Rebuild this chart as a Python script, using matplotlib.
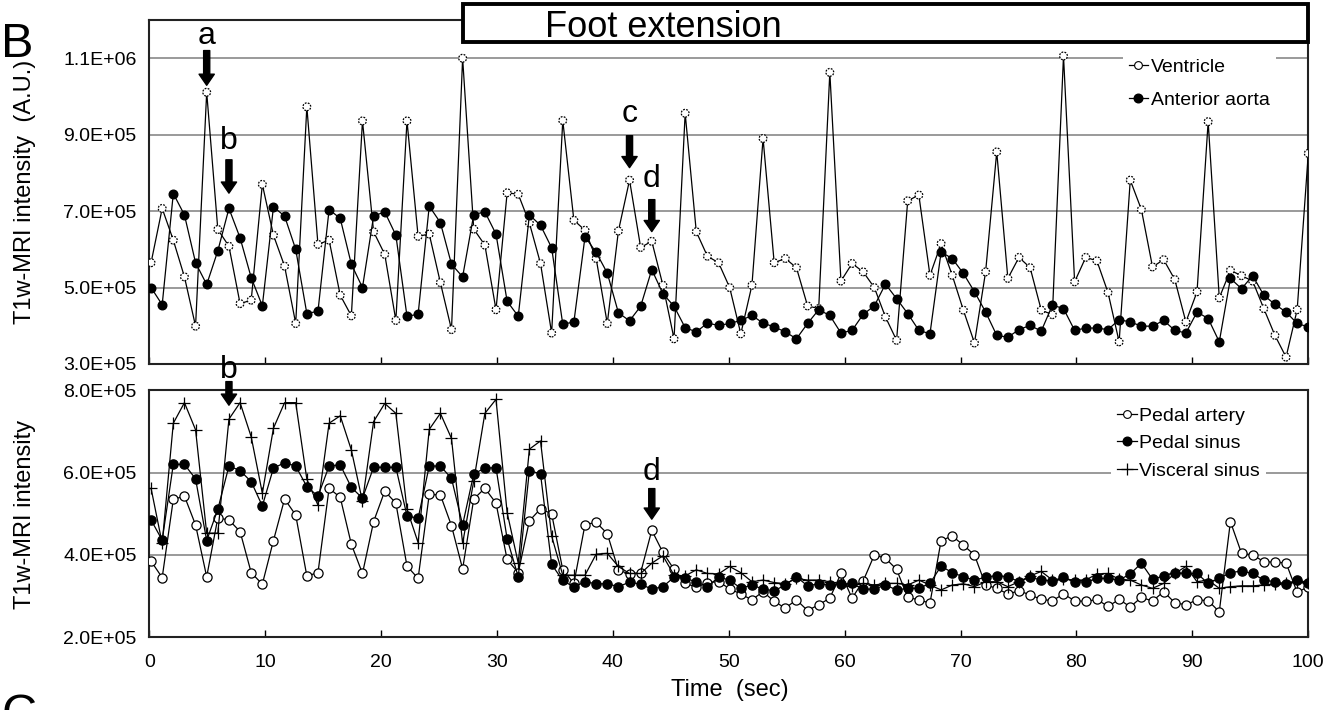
import numpy as np
import matplotlib
matplotlib.use("Agg")
import matplotlib.pyplot as plt
from matplotlib.lines import Line2D
from matplotlib.patches import Rectangle
from matplotlib.ticker import FuncFormatter
import matplotlib.transforms as mtransforms

plt.rcParams['font.family'] = ['Liberation Sans', 'DejaVu Sans']

# ---------------- data ----------------
N_FRAMES = 105
FRAME_INTERVAL = 0.96      # sec between MRI frames
FIRST_FRAME_TIME = 0.16    # sec
time_s = FIRST_FRAME_TIME + FRAME_INTERVAL * np.arange(N_FRAMES)

SCALE = 1e5
FOOT_EXTENSION_START = 27.1  # sec

ventricle = [
    5.65, 7.07, 6.24, 5.28, 3.99, 10.11, 6.52, 6.08, 4.58, 4.67,
    7.70, 6.37, 5.56, 4.06, 9.73, 6.13, 6.24, 4.80, 4.26, 9.36,
    6.46, 5.87, 4.14, 9.36, 6.34, 6.40, 5.13, 3.90, 11.00, 6.53,
    6.11, 4.42, 7.48, 7.44, 6.69, 5.63, 3.81, 9.37, 6.76, 6.50,
    5.76, 4.06, 6.48, 7.81, 6.05, 6.21, 5.06, 3.66, 9.56, 6.46,
    5.82, 5.65, 5.00, 3.79, 5.06, 8.90, 5.65, 5.76, 5.52, 4.52,
    4.45, 10.63, 5.17, 5.63, 5.41, 5.00, 4.23, 3.62, 7.27, 7.42,
    5.32, 6.15, 5.32, 4.41, 3.55, 5.41, 8.55, 5.24, 5.79, 5.52,
    4.41, 4.29, 11.06, 5.15, 5.79, 5.70, 4.87, 3.58, 7.81, 7.04,
    5.54, 5.73, 5.21, 4.10, 4.89, 9.34, 4.73, 5.45, 5.31, 5.17,
    4.45, 3.75, 3.18, 4.42, 8.51]

anterior_aorta = [
    5.00, 4.55, 7.46, 6.90, 5.65, 5.08, 5.96, 7.07, 6.30, 5.26,
    4.52, 7.11, 6.87, 6.00, 4.32, 4.38, 7.04, 6.81, 5.61, 5.00,
    6.87, 6.98, 6.37, 4.25, 4.30, 7.13, 6.70, 5.61, 5.28, 6.91,
    6.98, 6.40, 4.64, 4.25, 6.90, 6.63, 6.04, 4.04, 4.10, 6.33,
    5.92, 5.38, 4.34, 4.13, 4.51, 5.47, 4.84, 4.51, 3.95, 3.84,
    4.07, 4.01, 4.06, 4.14, 4.27, 4.07, 3.97, 3.84, 3.66, 4.06,
    4.42, 4.27, 3.81, 3.88, 4.30, 4.52, 5.09, 4.71, 4.32, 3.88,
    3.79, 5.93, 5.76, 5.37, 4.89, 4.36, 3.75, 3.70, 3.90, 4.01,
    3.86, 4.54, 4.45, 3.88, 3.94, 3.94, 3.90, 4.16, 4.10, 3.99,
    3.99, 4.14, 3.88, 3.81, 4.36, 4.19, 3.58, 5.24, 4.97, 5.31,
    4.80, 4.56, 4.36, 4.06, 3.97]

pedal_artery = [
    3.85, 3.45, 5.35, 5.43, 4.73, 3.47, 4.90, 4.85, 4.57, 3.57,
    3.29, 4.35, 5.36, 4.97, 3.49, 3.57, 5.62, 5.40, 4.26, 3.55,
    4.81, 5.55, 5.26, 3.73, 3.43, 5.47, 5.46, 4.71, 3.66, 5.36,
    5.62, 5.26, 3.89, 3.57, 4.83, 5.12, 5.00, 3.64, 3.31, 4.74,
    4.79, 4.52, 3.63, 3.54, 3.57, 4.60, 4.06, 3.65, 3.32, 3.21,
    3.33, 3.35, 3.18, 3.05, 2.91, 3.11, 2.87, 2.71, 2.91, 2.65,
    2.79, 2.95, 3.55, 2.95, 3.37, 4.00, 3.92, 3.65, 2.97, 2.91,
    2.83, 4.35, 4.46, 4.24, 4.00, 3.27, 3.19, 3.05, 3.13, 3.03,
    2.92, 2.89, 3.05, 2.89, 2.87, 2.92, 2.75, 2.92, 2.74, 2.97,
    2.88, 3.11, 2.84, 2.79, 2.91, 2.89, 2.62, 4.81, 4.04, 4.00,
    3.84, 3.82, 3.81, 3.09, 3.23]

pedal_sinus = [
    4.85, 4.36, 6.20, 6.20, 5.85, 4.35, 5.11, 6.16, 6.05, 5.78,
    5.19, 6.11, 6.24, 6.16, 5.66, 5.43, 6.16, 6.19, 5.64, 5.38,
    6.13, 6.13, 6.13, 4.95, 4.89, 6.16, 6.16, 5.86, 4.73, 5.97,
    6.11, 6.12, 4.39, 3.47, 6.05, 5.97, 3.77, 3.38, 3.22, 3.35,
    3.30, 3.30, 3.23, 3.34, 3.29, 3.17, 3.23, 3.46, 3.43, 3.35,
    3.23, 3.46, 3.39, 3.19, 3.27, 3.17, 3.13, 3.27, 3.47, 3.25,
    3.30, 3.27, 3.29, 3.31, 3.17, 3.17, 3.27, 3.15, 3.19, 3.19,
    3.31, 3.73, 3.57, 3.47, 3.39, 3.46, 3.50, 3.47, 3.35, 3.46,
    3.39, 3.37, 3.46, 3.35, 3.34, 3.43, 3.43, 3.39, 3.54, 3.80,
    3.41, 3.49, 3.57, 3.55, 3.55, 3.31, 3.43, 3.57, 3.61, 3.55,
    3.39, 3.35, 3.30, 3.39, 3.33]

visceral_sinus = [
    5.62, 4.28, 7.20, 7.70, 7.04, 4.53, 4.53, 7.30, 7.70, 6.87,
    5.50, 7.08, 7.70, 7.70, 5.84, 5.21, 7.20, 7.38, 6.55, 5.30,
    7.24, 7.68, 7.44, 5.11, 4.30, 7.05, 7.44, 6.83, 4.28, 5.80,
    7.44, 7.78, 5.03, 3.80, 6.57, 6.77, 4.46, 3.51, 3.51, 3.51,
    4.02, 4.04, 3.72, 3.55, 3.55, 3.80, 3.98, 3.51, 3.49, 3.64,
    3.55, 3.54, 3.72, 3.57, 3.35, 3.39, 3.33, 3.30, 3.43, 3.39,
    3.39, 3.35, 3.29, 3.25, 3.31, 3.27, 3.31, 3.31, 3.27, 3.39,
    3.27, 3.15, 3.27, 3.30, 3.23, 3.35, 3.35, 3.23, 3.35, 3.49,
    3.60, 3.39, 3.41, 3.39, 3.39, 3.54, 3.55, 3.41, 3.39, 3.27,
    3.19, 3.31, 3.55, 3.72, 3.35, 3.39, 3.19, 3.23, 3.25, 3.25,
    3.27, 3.30, 3.31, 3.35, 3.31]

top_yticks = [3e5, 5e5, 7e5, 9e5, 1.1e6]
bottom_yticks = [2e5, 4e5, 6e5, 8e5]
xticks = [0, 10, 20, 30, 40, 50, 60, 70, 80, 90, 100]

# annotations: (label, panel, series, frame index, arrow gap pt, arrow length pt, text offset pt)
annotations = [
    ("a", "top", "ventricle", 5, 5, 25, 35),
    ("b", "top", "anterior_aorta", 7, 11, 24, 43),
    ("c", "top", "ventricle", 43, 9, 23, 42),
    ("d", "top", "ventricle", 45, 7, 23, 39),
    ("b", "bottom", "visceral_sinus", 7, 10, 17, 29.5),
    ("d", "bottom", "pedal_artery", 45, 8, 22, 36),
]

series = {
    "ventricle": np.array(ventricle) * SCALE,
    "anterior_aorta": np.array(anterior_aorta) * SCALE,
    "pedal_artery": np.array(pedal_artery) * SCALE,
    "pedal_sinus": np.array(pedal_sinus) * SCALE,
    "visceral_sinus": np.array(visceral_sinus) * SCALE,
}

# ---------------- figure ----------------
W, H = 1341, 710
fig = plt.figure(figsize=(W / 100, H / 100), dpi=100)
ax1 = fig.add_axes([149.2 / W, 1 - 364 / H, 1159.1 / W, 344 / H])
ax2 = fig.add_axes([149.2 / W, 1 - 637.3 / H, 1159.1 / W, 247 / H])

LW = 0.9
MS = 5.6
GRID_COLOR = '#7f7f7f'

# top panel
ax1.plot(time_s, series["ventricle"], '-', color='k', lw=LW, zorder=3)
ax1.scatter(time_s, series["ventricle"], s=MS ** 2, facecolors='white',
            edgecolors='k', linewidths=0.9, linestyles=(0, (1.5, 1)), zorder=4)
ax1.plot(time_s, series["anterior_aorta"], '-', color='k', lw=LW, marker='o',
         ms=MS + 0.6, mfc='k', mec='k', zorder=5)

# bottom panel
ax2.plot(time_s, series["pedal_artery"], '-', color='k', lw=LW, marker='o',
         ms=MS + 1.0, mfc='white', mec='k', mew=0.9, zorder=3)
ax2.plot(time_s, series["pedal_sinus"], '-', color='k', lw=LW, marker='o',
         ms=MS + 1.0, mfc='k', mec='k', zorder=4)
ax2.plot(time_s, series["visceral_sinus"], '-', color='k', lw=LW, marker='+',
         ms=8, mew=0.9, zorder=5)

fmt = FuncFormatter(lambda v, p: f"{v:.1E}")
for ax, yt, ylim in ((ax1, top_yticks, (3e5, 1.2e6)), (ax2, bottom_yticks, (2e5, 8e5))):
    ax.set_xlim(0, 100)
    ax.set_ylim(*ylim)
    ax.set_xticks(xticks)
    ax.set_yticks(yt)
    ax.yaxis.set_major_formatter(fmt)
    ax.yaxis.grid(True, color=GRID_COLOR, lw=1.1, zorder=0)
    ax.set_axisbelow(True)
    for sp in ax.spines.values():
        sp.set_linewidth(1.5)
        sp.set_color('#222222')
    ax.tick_params(axis='x', direction='in', length=5, width=1.0, labelsize=14, pad=12)
    ax.tick_params(axis='y', length=0, labelsize=14, pad=9)
ax1.tick_params(axis='x', labelbottom=False)

# legends
h_vent = Line2D([], [], color='k', lw=LW, marker='o', ms=MS, mfc='white', mec='k', mew=0.8)
h_aorta = Line2D([], [], color='k', lw=LW, marker='o', ms=MS + 0.6, mfc='k', mec='k')
leg1 = ax1.legend([h_vent, h_aorta], ['Ventricle', 'Anterior aorta'], loc='upper left',
                  bbox_to_anchor=(0.840, 0.905), frameon=True, fancybox=False,
                  edgecolor='none', facecolor='white', framealpha=1, fontsize=14,
                  handlelength=1.0, handletextpad=0.15, labelspacing=0.8,
                  borderpad=0.3, borderaxespad=0)

h_pa = Line2D([], [], color='k', lw=LW, marker='o', ms=MS, mfc='white', mec='k', mew=0.8)
h_ps = Line2D([], [], color='k', lw=LW, marker='o', ms=MS + 0.6, mfc='k', mec='k')
h_vs = Line2D([], [], color='k', lw=LW, marker='+', ms=8, mew=0.9)
leg2 = ax2.legend([h_pa, h_ps, h_vs], ['Pedal artery', 'Pedal sinus', 'Visceral sinus'],
                  loc='upper left', bbox_to_anchor=(0.830, 0.955), frameon=True,
                  fancybox=False, edgecolor='none', facecolor='white', framealpha=1,
                  fontsize=14, handlelength=1.0, handletextpad=0.15, labelspacing=0.5,
                  borderpad=0.3, borderaxespad=0)

# arrows with letters
panel_axes = {"top": ax1, "bottom": ax2}
for label, panel, key, idx, gap, length, toff in annotations:
    ax = panel_axes[panel]
    xy = (time_s[idx], series[key][idx])
    ax.annotate('', xy=xy, xycoords='data', xytext=(0, gap + length),
                textcoords='offset points',
                arrowprops=dict(arrowstyle='simple,head_length=0.4,head_width=0.55,tail_width=0.22',
                                fc='k', ec='k', shrinkA=0, shrinkB=gap, mutation_scale=20),
                zorder=8, annotation_clip=False)
    ax.annotate(label, xy=xy, xycoords='data', xytext=(0, toff), textcoords='offset points',
                ha='center', va='baseline', fontsize=23, zorder=8, annotation_clip=False)

# Foot extension box
trans = mtransforms.blended_transform_factory(ax1.transData, fig.transFigure)
rect = Rectangle((FOOT_EXTENSION_START, 1 - 42 / H), 100 - FOOT_EXTENSION_START, 38 / H,
                 transform=trans, facecolor='white', edgecolor='k', lw=2.8,
                 clip_on=False, zorder=10)
fig.add_artist(rect)
fig.text(545 / W, 1 - 37 / H, 'Foot extension', fontsize=26, ha='left', va='baseline', zorder=11)

# panel letters and axis labels
fig.text(1 / W, 1 - 57 / H, 'B', fontsize=35, ha='left', va='baseline')
fig.text(1 / W, 1 - 728 / H, 'C', fontsize=35, ha='left', va='baseline')
fig.text(25 / W, 1 - 192 / H, 'T1w-MRI intensity  (A.U.)', rotation=90, fontsize=17,
         ha='center', va='center')
fig.text(25 / W, 1 - 514 / H, 'T1w-MRI intensity', rotation=90, fontsize=17,
         ha='center', va='center')
fig.text(730 / W, 1 - 690 / H, 'Time  (sec)', fontsize=17, ha='center', va='center')

fig.savefig('out.png', dpi=100)
